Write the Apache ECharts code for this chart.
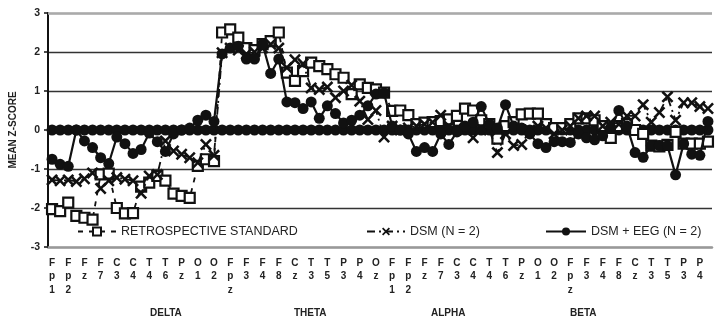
<!DOCTYPE html>
<html>
<head>
<meta charset="utf-8">
<script src="https://cdn.jsdelivr.net/npm/echarts@6/dist/echarts.min.js"></script>
<style>
html,body{margin:0;padding:0;background:#fff;}
#chart{width:718px;height:324px;}
</style>
</head>
<body>
<div id="chart"></div>
<script>
const electrodes = ['Fp1','Fpz','Fp2','F3','Fz','F4','F7','F8','C3','Cz','C4','T3','T4','T5','T6','P3','Pz','P4','O1','Oz','O2'];
const bands = ['DELTA','THETA','ALPHA','BETA'];
const yTicks = [-3,-2,-1,0,1,2,3];

const retrospective = [
  -2.03,-2.08,-1.86,-2.2,-2.25,-2.3,-1.14,-1.12,-2.0,-2.14,-2.13,-1.45,-1.35,-1.18,-1.3,-1.63,-1.69,-1.74,-0.92,-0.75,-0.8,
  2.5,2.58,2.37,2.1,2.05,2.2,2.28,2.5,1.47,1.26,1.51,1.73,1.64,1.56,1.43,1.34,0.92,1.17,1.08,1.04,0.96,
  0.49,0.5,0.38,0.15,0.19,0.2,0.23,0.27,0.36,0.55,0.5,0.25,0.15,-0.22,0.1,0.2,0.4,0.42,0.42,0.15,0.05,
  0.05,0.15,0.3,0.3,0.25,0.1,-0.2,0.1,0.15,0.0,-0.1,-0.4,-0.42,-0.38,-0.05,-0.35,-0.35,-0.35,-0.3
];
const dsm = [
  -1.28,-1.3,-1.28,-1.32,-1.25,-1.1,-1.5,-1.3,-1.22,-1.26,-1.3,-1.62,-1.18,-1.14,-0.28,-0.54,-0.62,-0.71,-0.84,-0.37,-0.65,
  1.98,2.1,2.05,1.95,2.0,2.1,2.2,2.1,1.6,1.8,1.7,1.08,1.04,1.1,0.83,1.0,1.15,0.74,0.27,0.5,-0.18,
  0.1,0.0,0.05,0.1,0.15,0.2,0.38,0.1,0.05,0.0,-0.2,0.05,0.0,-0.58,-0.1,-0.4,-0.37,0.0,0.1,0.05,-0.1,
  0.0,0.1,0.3,0.36,0.36,0.1,0.2,0.15,0.36,0.36,0.65,0.2,0.45,0.85,0.25,0.7,0.7,0.6,0.55
];
const dsmEeg = [
  -0.75,-0.88,-0.93,0.0,-0.28,-0.45,-0.71,-0.86,-0.18,-0.35,-0.6,-0.5,-0.08,-0.3,-0.55,-0.1,0.0,0.05,0.25,0.38,0.22,
  1.95,2.1,2.15,1.82,1.82,2.2,1.45,1.82,0.72,0.7,0.55,0.72,0.3,0.62,0.42,0.18,0.25,0.38,0.62,0.92,0.95,
  0.1,0.0,-0.1,-0.55,-0.45,-0.55,-0.1,-0.37,-0.05,0.1,0.2,0.6,0.15,0.05,0.65,0.1,0.05,-0.1,-0.35,-0.45,-0.3,
  -0.3,-0.32,-0.1,-0.2,-0.25,-0.15,0.05,0.5,0.1,-0.58,-0.7,-0.4,-0.4,-0.4,-1.15,-0.35,-0.62,-0.65,0.22
];
const baseline = retrospective.map(() => 0);

const categories = bands.flatMap(b => electrodes.map(e => b + ' ' + e)).slice(0, retrospective.length);

const INK = '#111';
const xPath = 'path://M1.5,0 L5,3.5 L8.5,0 L10,1.5 L6.5,5 L10,8.5 L8.5,10 L5,6.5 L1.5,10 L0,8.5 L3.5,5 L0,1.5 Z';

const chart = echarts.init(document.getElementById('chart'), null, {renderer: 'canvas'});
const legendText = {fontFamily: 'Liberation Sans, Arial, sans-serif', fontSize: 12.5, color: '#222'};
chart.setOption({
  animation: false,
  backgroundColor: '#fff',
  grid: {left: 43, right: 6, top: 13, bottom: 77, containLabel: false},
  legend: [
    {data: ['RETROSPECTIVE STANDARD'], left: 77, top: 225, padding: 0, itemWidth: 38, itemHeight: 10, textStyle: legendText},
    {data: ['DSM (N = 2)'], left: 366, top: 225, padding: 0, itemWidth: 38, itemHeight: 10, textStyle: legendText},
    {data: ['DSM + EEG (N = 2)'], left: 545, top: 225, padding: 0, itemWidth: 40, itemHeight: 10, textStyle: legendText}
  ],
  xAxis: {
    type: 'category',
    data: categories,
    boundaryGap: true,
    axisLine: {onZero: false, lineStyle: {color: '#999', width: 2.5}},
    axisTick: {show: false},
    splitLine: {show: false},
    axisLabel: {
      interval: 1,
      margin: 9,
      fontFamily: 'Liberation Sans, Arial, sans-serif',
      fontWeight: 'bold',
      fontSize: 10,
      lineHeight: 13.5,
      color: '#222',
      formatter: v => v.split(' ')[1].split('').join('\n')
    }
  },
  yAxis: {
    type: 'value',
    min: yTicks[0],
    max: yTicks[yTicks.length - 1],
    interval: 1,
    name: 'MEAN Z-SCORE',
    nameLocation: 'middle',
    nameRotate: 90,
    nameGap: 30,
    nameTextStyle: {fontFamily: 'Liberation Sans, Arial, sans-serif', fontWeight: 'bold', fontSize: 10, color: '#222'},
    axisLine: {show: true, lineStyle: {color: INK, width: 2}},
    axisTick: {show: true, length: 4, lineStyle: {color: INK, width: 1.5}},
    axisLabel: {margin: 8, fontFamily: 'Liberation Sans, Arial, sans-serif', fontWeight: 'bold', fontSize: 10.5, color: '#222'},
    splitLine: {show: true, lineStyle: {color: ['#999','#333','#333','#333','#333','#333','#aaa'], width: 1.3}}
  },
  graphic: [
    {type: 'text', left: 150, top: 308, style: {text: 'DELTA', font: 'bold 10px Liberation Sans, Arial, sans-serif', fill: '#222'}},
    {type: 'text', left: 294, top: 308, style: {text: 'THETA', font: 'bold 10px Liberation Sans, Arial, sans-serif', fill: '#222'}},
    {type: 'text', left: 431, top: 308, style: {text: 'ALPHA', font: 'bold 10px Liberation Sans, Arial, sans-serif', fill: '#222'}},
    {type: 'text', left: 570, top: 308, style: {text: 'BETA', font: 'bold 10px Liberation Sans, Arial, sans-serif', fill: '#222'}}
  ],
  series: [
    {
      name: 'baseline', type: 'line', data: baseline, silent: true, z: 2,
      symbol: 'circle', symbolSize: 11, showAllSymbol: true,
      itemStyle: {color: INK}, lineStyle: {color: INK, width: 2},
      markLine: {silent: true, symbol: 'none', label: {show: false},
        lineStyle: {color: '#aaa', width: 2.5, type: 'solid'}, data: [{yAxis: yTicks[yTicks.length - 1]}]}
    },
    {
      name: 'RETROSPECTIVE STANDARD', type: 'line', data: retrospective, z: 3,
      symbol: 'rect', symbolSize: 10, showAllSymbol: true,
      itemStyle: {color: '#fff', borderColor: INK, borderWidth: 2.2},
      lineStyle: {color: INK, width: 1.8, type: [5, 6]}
    },
    {
      name: 'DSM (N = 2)', type: 'line', data: dsm, z: 4,
      symbol: xPath, symbolSize: 12, showAllSymbol: true,
      itemStyle: {color: INK},
      lineStyle: {color: INK, width: 1.8, type: [8, 4, 2, 4]}
    },
    {
      name: 'DSM + EEG (N = 2)', type: 'line', data: dsmEeg, z: 5,
      symbol: 'circle', symbolSize: 11, showAllSymbol: true,
      itemStyle: {color: INK},
      lineStyle: {color: INK, width: 2.2}
    }
  ]
});
</script>
</body>
</html>
